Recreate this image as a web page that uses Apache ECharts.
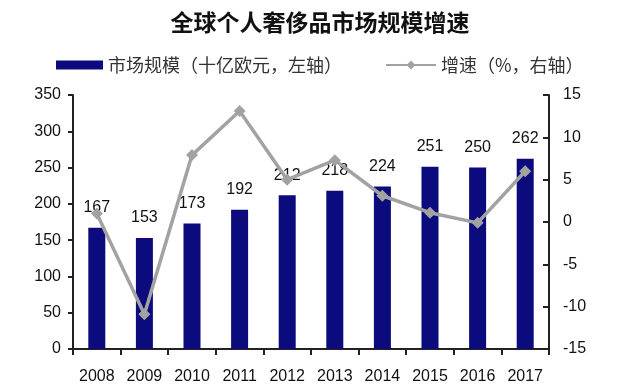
<!DOCTYPE html>
<html><head><meta charset="utf-8">
<script src="https://cdn.jsdelivr.net/npm/echarts@6/dist/echarts.min.js"></script>
<style>html,body{margin:0;padding:0;background:#fff}#c{width:640px;height:387px}</style>
</head><body><div id="c"></div>
<script>
var years = ['2008','2009','2010','2011','2012','2013','2014','2015','2016','2017'];
var marketSize = [167,153,173,192,212,218,224,251,250,262];
var growth = [1.0,-10.9,7.9,13.1,5.0,7.3,3.1,1.1,-0.1,6.0];
var leftTicks = {min:0,max:350,interval:50};
var rightTicks = {min:-15,max:15,interval:5};

var chart = echarts.init(document.getElementById('c'));
var numFont = 'Liberation Sans, Arial, sans-serif';
var cjkFont = 'Noto Sans CJK SC, sans-serif';
chart.setOption({
  animation:false,
  backgroundColor:'#fff',
  title:{text:'全球个人奢侈品市场规模增速',left:'center',top:6,
    textStyle:{fontFamily:cjkFont,fontSize:23,fontWeight:'bold',color:'#111'}},
  legend:[{
    data:[{name:'市场规模（十亿欧元，左轴）',icon:'rect'}],left:51,top:51,itemWidth:47,itemHeight:9,itemGap:6,
    textStyle:{fontFamily:cjkFont,fontSize:18,color:'#333'}
  },{
    data:['增速（%，右轴）'],left:380,top:51,itemWidth:50,itemHeight:11,
    textStyle:{fontFamily:cjkFont,fontSize:18,color:'#333'}
  }],
  grid:{left:73,right:91,top:95,bottom:38},
  xAxis:{type:'category',data:years,
    axisLine:{lineStyle:{color:'#222',width:2}},
    axisTick:{show:true,alignWithLabel:false,length:6,lineStyle:{color:'#222',width:2}},
    axisLabel:{fontFamily:numFont,fontSize:16,color:'#111',margin:20}},
  yAxis:[{type:'value',min:leftTicks.min,max:leftTicks.max,interval:leftTicks.interval,
    splitLine:{show:false},
    axisLine:{show:true,lineStyle:{color:'#222',width:2}},
    axisTick:{show:true,length:5,lineStyle:{color:'#222',width:2}},
    axisLabel:{fontFamily:numFont,fontSize:16,color:'#111',margin:12}},
   {type:'value',min:rightTicks.min,max:rightTicks.max,interval:rightTicks.interval,
    splitLine:{show:false},
    axisLine:{show:true,lineStyle:{color:'#222',width:2}},
    axisTick:{show:true,inside:true,length:6,lineStyle:{color:'#222',width:2}},
    axisLabel:{fontFamily:numFont,fontSize:16,color:'#111',margin:14}}],
  series:[{
    name:'市场规模（十亿欧元，左轴）',type:'bar',data:marketSize,barWidth:17,
    itemStyle:{color:'#0b0b7d'},
    label:{show:true,position:'top',distance:12,fontFamily:numFont,fontSize:16,color:'#111'}
  },{
    name:'增速（%，右轴）',type:'line',yAxisIndex:1,data:growth,
    symbol:'diamond',symbolSize:12,
    lineStyle:{color:'#a2a2a2',width:3.5},
    itemStyle:{color:'#a2a2a2'},
    z:3
  }]
});
</script></body></html>
